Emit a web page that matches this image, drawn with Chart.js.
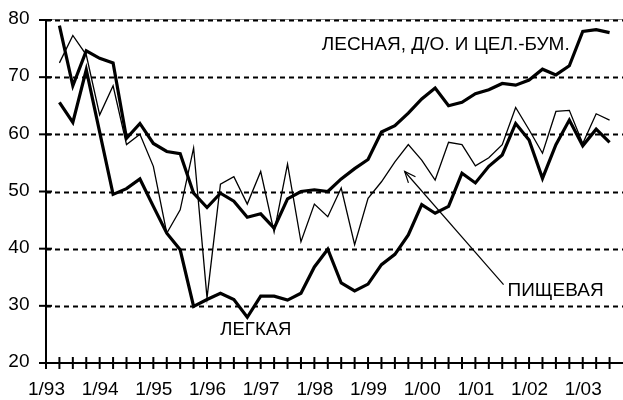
<!DOCTYPE html>
<html><head><meta charset="utf-8">
<script src="https://cdn.jsdelivr.net/npm/chart.js@4.4.1/dist/chart.umd.min.js"></script>
<style>html,body{margin:0;padding:0;background:#fff}#wrap{width:623px;height:400px;position:relative}</style>
</head><body><div id="wrap"><canvas id="c" width="623" height="400"></canvas></div>
<script>
// quarter index: 0 = 1/93, 4 = 1/94, ...
const xLabels = ['1/93','1/94','1/95','1/96','1/97','1/98','1/99','1/00','1/01','1/02','1/03'];
const quarters = [1,2,3,4,5,6,7,8,9,10,11,12,13,14,15,16,17,18,19,20,21,22,23,24,25,26,27,28,29,30,31,32,33,34,35,36,37,38,39,40,41,42];
const lesnaya = [79.0,68.5,74.6,73.3,72.5,59.3,61.9,58.4,57.0,56.6,49.7,47.2,49.7,48.3,45.5,46.1,43.6,48.7,50.0,50.3,50.0,52.2,54.0,55.6,60.4,61.5,63.7,66.2,68.1,65.0,65.6,67.1,67.8,68.9,68.6,69.5,71.4,70.4,72.0,78.0,78.3,77.8];
const legkaya = [65.6,62.1,71.3,60.4,49.5,50.5,52.2,47.4,42.7,39.8,29.9,31.1,32.2,31.1,28.0,31.7,31.7,31.0,32.2,36.8,39.9,34.0,32.6,33.8,37.2,39.0,42.4,47.7,46.2,47.4,53.2,51.5,54.4,56.4,61.9,59.0,52.3,58.2,62.5,58.0,60.9,58.6];
const pishevaya = [72.5,77.3,73.9,63.4,68.5,58.2,60.0,54.4,42.7,46.8,57.6,31.4,51.3,52.6,47.8,53.5,42.9,54.8,41.2,47.8,45.6,50.6,40.7,48.8,51.7,55.2,58.2,55.5,52.0,58.6,58.2,54.5,55.9,58.2,64.7,60.8,56.7,64.0,64.2,58.4,63.6,62.5];
const yTicks = [20,30,40,50,60,70,80];
const gridValues = [30,40,50,60,70,80];
const seriesNames = ['ЛЕСНАЯ, Д/О. И ЦЕЛ.-БУМ.','ЛЕГКАЯ','ПИЩЕВАЯ'];

const FONT = '"Liberation Sans", Arial, sans-serif';
const pts = arr => arr.map((v,i)=>({x:quarters[i], y:v}));

const decor = {
  id:'decor',
  beforeDatasetsDraw(chart){
    const {ctx, chartArea:a, scales:{x,y}} = chart;
    ctx.save();
    ctx.strokeStyle='#888'; ctx.lineWidth=1;
    ctx.beginPath(); ctx.moveTo(a.left, a.top-0.5); ctx.lineTo(a.right, a.top-0.5); ctx.stroke();
    ctx.strokeStyle='#000'; ctx.lineWidth=2; ctx.setLineDash([5,4]);
    gridValues.forEach(v=>{
      const py = Math.round(y.getPixelForValue(v))+0.5;
      ctx.beginPath(); ctx.moveTo(a.left, py); ctx.lineTo(a.right, py); ctx.stroke();
    });
    ctx.setLineDash([]);
    ctx.restore();
  },
  afterDatasetsDraw(chart){
    const {ctx, chartArea:a, scales:{x,y}} = chart;
    ctx.save();
    ctx.strokeStyle='#000'; ctx.lineWidth=2;
    ctx.beginPath(); ctx.moveTo(a.left, a.top); ctx.lineTo(a.left, a.bottom+1); ctx.stroke();
    ctx.beginPath(); ctx.moveTo(a.left-1, a.bottom); ctx.lineTo(a.right, a.bottom); ctx.stroke();
    ctx.fillStyle='#000'; ctx.font='19px '+FONT; ctx.textBaseline='middle';
    // y ticks + labels
    ctx.textAlign='right';
    yTicks.forEach(v=>{
      const py = y.getPixelForValue(v);
      ctx.beginPath(); ctx.moveTo(a.left-7, py); ctx.lineTo(a.left+6, py); ctx.stroke();
      ctx.fillText(String(v), a.left-16.5, py-1);
    });
    // x ticks (quarterly) + labels
    for(let q=0;q<=42;q++){
      const px = x.getPixelForValue(q);
      ctx.beginPath(); ctx.moveTo(px, a.bottom-6); ctx.lineTo(px, a.bottom+6); ctx.stroke();
    }
    ctx.textAlign='center';
    xLabels.forEach((lab,i)=>{
      ctx.fillText(lab, x.getPixelForValue(i*4)+0.5, a.bottom+27);
    });
    // series labels
    ctx.textAlign='left';
    ctx.fillText(seriesNames[0], x.getPixelForValue(20.55), y.getPixelForValue(75.6), 248);
    ctx.textAlign='center';
    ctx.fillText(seriesNames[1], x.getPixelForValue(15.64), y.getPixelForValue(25.8), 71);
    ctx.textAlign='left';
    ctx.fillText(seriesNames[2], x.getPixelForValue(34.4), y.getPixelForValue(32.6), 96);
    // arrow
    const x1=x.getPixelForValue(34.1), y1=y.getPixelForValue(33.7);
    const x2=x.getPixelForValue(26.73), y2=y.getPixelForValue(53.5);
    ctx.lineWidth=1.2;
    ctx.beginPath(); ctx.moveTo(x1,y1); ctx.lineTo(x2,y2); ctx.stroke();
    const ang=Math.atan2(y2-y1,x2-x1), L=12, sp=0.4;
    ctx.beginPath();
    ctx.moveTo(x2-L*Math.cos(ang-sp), y2-L*Math.sin(ang-sp));
    ctx.lineTo(x2,y2);
    ctx.lineTo(x2-L*Math.cos(ang+sp), y2-L*Math.sin(ang+sp));
    ctx.stroke();
    ctx.restore();
  }
};

new Chart(document.getElementById('c'), {
  type:'line',
  data:{datasets:[
    {label:seriesNames[2], data:pts(pishevaya), borderColor:'#000', borderWidth:1.3, pointRadius:0, tension:0, fill:false},
    {label:seriesNames[1], data:pts(legkaya), borderColor:'#000', borderWidth:3.2, pointRadius:0, tension:0, fill:false},
    {label:seriesNames[0], data:pts(lesnaya), borderColor:'#000', borderWidth:3.2, pointRadius:0, tension:0, fill:false}
  ]},
  options:{
    responsive:false, animation:false, devicePixelRatio:1,
    layout:{padding:{top:20,right:0,left:0,bottom:0}},
    plugins:{legend:{display:false}, tooltip:{enabled:false}},
    scales:{
      x:{type:'linear', min:0, max:43,
        afterFit(s){s.height=37;},
        grid:{display:false}, border:{display:false},
        ticks:{display:false, stepSize:4}},
      y:{min:20, max:80,
        afterFit(s){s.width=46;},
        grid:{display:false}, border:{display:false},
        ticks:{display:false, stepSize:10}}
    }
  },
  plugins:[decor]
});
</script></body></html>
